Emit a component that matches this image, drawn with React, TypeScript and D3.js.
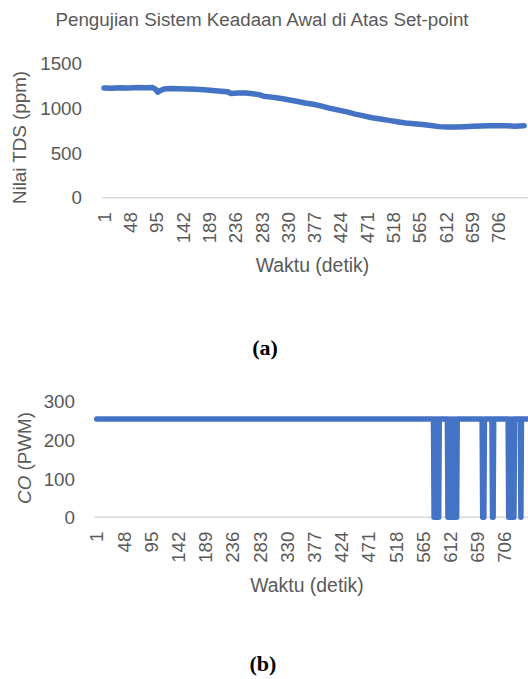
import React from "react";
import * as d3 from "d3";

// ---------- data ----------
const xTicks = [1, 48, 95, 142, 189, 236, 283, 330, 377, 424, 471, 518, 565, 612, 659, 706];
const N_POINTS = 752;

// TDS readings (seconds, ppm)
const tdsTime = [1, 15, 30, 45, 60, 75, 88, 93, 97, 101, 108, 120, 135, 150, 165, 180, 195, 210, 222, 228, 240, 255, 270, 280, 286, 300, 315, 330, 345, 360, 375, 390, 405, 420, 435, 450, 465, 480, 495, 510, 525, 540, 555, 570, 585, 600, 615, 630, 645, 660, 675, 690, 705, 720, 735, 752];
const tdsValue = [1228, 1225, 1230, 1228, 1232, 1230, 1232, 1215, 1180, 1195, 1215, 1222, 1220, 1215, 1212, 1208, 1200, 1192, 1185, 1165, 1172, 1170, 1160, 1150, 1135, 1125, 1112, 1095, 1078, 1060, 1045, 1025, 1000, 980, 960, 935, 915, 895, 880, 865, 850, 835, 828, 818, 808, 795, 790, 792, 795, 800, 803, 805, 806, 805, 798, 806];
const tdsTicks = [0, 500, 1000, 1500];

// Controller output (seconds, PWM) at change points
const coTime = [
  1, 583, 584, 585, 586, 587, 588, 589, 590, 591, 592, 593,
  607, 608, 610, 611, 612, 614, 615, 616, 618, 619, 620, 623, 624,
  667, 668, 670, 671,
  684, 685, 686, 687,
  712, 713, 715, 716, 717, 719, 720, 721, 722, 723,
  733, 734, 735, 752,
];
const coValue = [
  255, 255, 0, 0, 255, 255, 0, 0, 255, 0, 0, 255,
  255, 0, 0, 255, 0, 0, 255, 0, 0, 255, 0, 0, 255,
  255, 0, 0, 255,
  255, 0, 0, 255,
  255, 0, 0, 255, 0, 0, 255, 0, 0, 255,
  255, 0, 255, 255,
];
const coTicks = [0, 100, 200, 300];

const TEXT = "#595959";
const BLUE = "#4472C4";
const GRID = "#d9d9d9";
const FONT = "'Liberation Sans', Arial, sans-serif";
const FS = 18.8;

type PanelProps = {
  times: number[];
  values: number[];
  yTicks: number[];
  yMax: number;
  x0: number;
  step: number;
  gridX: number;
  yBottom: number;
  yTop: number;
  tickRight: number;
  xLabelTop: number;
  xTitleX: number;
  xTitleY: number;
  yTitleX: number;
  yTitleY: number;
  yTitle: React.ReactNode;
};

function Panel(p: PanelProps) {
  const x = d3.scaleLinear().domain([1, N_POINTS]).range([p.x0, p.x0 + (N_POINTS - 1) * p.step]);
  const y = d3.scaleLinear().domain([0, p.yMax]).range([p.yBottom, p.yTop]);
  const pts = p.times.map((t, i) => [t, p.values[i]] as [number, number]);
  const line = d3.line<[number, number]>().x((d) => x(d[0])).y((d) => y(d[1]));
  return (
    <g>
      <line x1={p.gridX} x2={528} y1={y(0)} y2={y(0)} stroke={GRID} strokeWidth={1.5} />
      {p.yTicks.map((t) => (
        <text key={t} x={p.tickRight} y={y(t)} dy="0.36em" textAnchor="end" fontSize={FS} fill={TEXT} fontFamily={FONT}>
          {t}
        </text>
      ))}
      {xTicks.map((t) => (
        <text
          key={t}
          transform={`translate(${x(t)},${p.xLabelTop}) rotate(-90)`}
          dy="0.36em"
          textAnchor="end"
          fontSize={FS}
          fill={TEXT}
          fontFamily={FONT}
        >
          {t}
        </text>
      ))}
      <path d={line(pts) || ""} fill="none" stroke={BLUE} strokeWidth={5.5} strokeLinejoin="round" strokeLinecap="round" />
      <text x={p.xTitleX} y={p.xTitleY} textAnchor="middle" fontSize={19.4} fill={TEXT} fontFamily={FONT}>
        Waktu (detik)
      </text>
      <text transform={`translate(${p.yTitleX},${p.yTitleY}) rotate(-90)`} textAnchor="middle" fontSize={FS} fill={TEXT} fontFamily={FONT}>
        {p.yTitle}
      </text>
    </g>
  );
}

export default function App() {
  return (
    <div style={{ position: "absolute", left: 0, top: 0, width: 528, height: 679, background: "#fff" }}>
      <svg width={528} height={679} style={{ display: "block", overflow: "hidden" }}>
        <rect width={528} height={679} fill="#fff" />
        <text x={262} y={26} textAnchor="middle" fontSize={FS} fill={TEXT} fontFamily={FONT}>
          Pengujian Sistem Keadaan Awal di Atas Set-point
        </text>
        <Panel
          times={tdsTime}
          values={tdsValue}
          yTicks={tdsTicks}
          yMax={1500}
          x0={104}
          step={0.5596}
          gridX={101.7}
          yBottom={197.7}
          yTop={63.6}
          tickRight={82}
          xLabelTop={212}
          xTitleX={312.5}
          xTitleY={271.5}
          yTitleX={26}
          yTitleY={137.5}
          yTitle="Nilai TDS (ppm)"
        />
        <text x={265} y={355} textAnchor="middle" fontSize={22} fontWeight="bold" fill="#000" fontFamily="'Liberation Serif', 'Times New Roman', serif">
          (a)
        </text>
        <Panel
          times={coTime}
          values={coValue}
          yTicks={coTicks}
          yMax={300}
          x0={96.7}
          step={0.5787}
          gridX={94.3}
          yBottom={517.3}
          yTop={401.7}
          tickRight={75}
          xLabelTop={531.5}
          xTitleX={307}
          xTitleY={591.5}
          yTitleX={30.5}
          yTitleY={458}
          yTitle={
            <>
              <tspan fontStyle="italic">CO</tspan> (PWM)
            </>
          }
        />
        <text x={263} y={671} textAnchor="middle" fontSize={22} fontWeight="bold" fill="#000" fontFamily="'Liberation Serif', 'Times New Roman', serif">
          (b)
        </text>
      </svg>
    </div>
  );
}
